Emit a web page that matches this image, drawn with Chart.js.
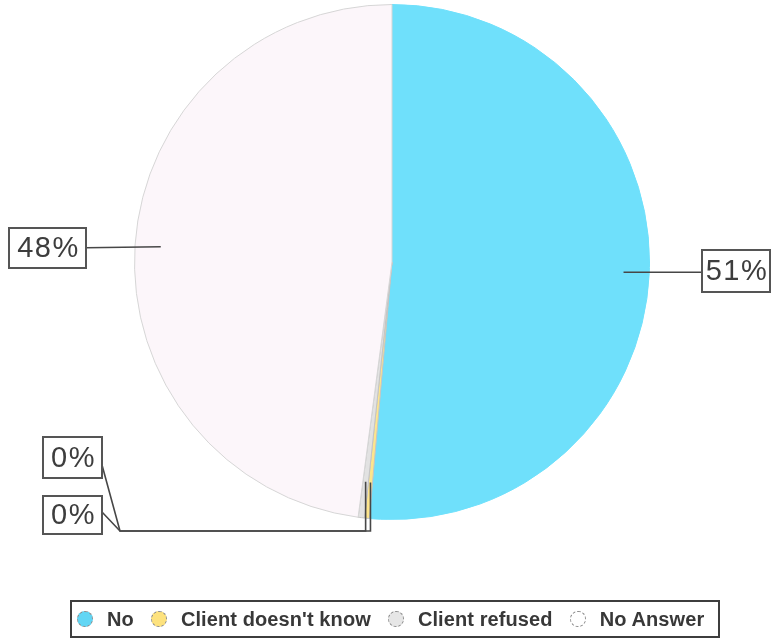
<!DOCTYPE html>
<html>
<head>
<meta charset="utf-8">
<script src="https://cdn.jsdelivr.net/npm/chart.js@4.4.1/dist/chart.umd.min.js"></script>
<style>
  html, body { margin: 0; padding: 0; background: #fff; }
  #wrap { position: relative; width: 772px; height: 641px; overflow: hidden; }
  #pie { position: absolute; left: 0; top: 0; }
  #legend {
    position: absolute; left: 70px; top: 600px; width: 641px; height: 34px;
    border: 2px solid #3e3e3e; display: flex; align-items: center;
    padding-left: 5px; box-sizing: content-box;
    font: bold 20px "Liberation Sans", Arial, sans-serif; color: #383838;
    letter-spacing: 0.1px;
  }
  #legend .item { display: flex; align-items: center; margin-right: 17px; white-space: nowrap; }
  #legend .dot {
    width: 14px; height: 14px; border-radius: 50%; margin-right: 14px;
    border: 1px dashed #8a8a8a;
  }
</style>
</head>
<body>
<div id="wrap">
  <canvas id="pie" width="772" height="641"></canvas>
  <div id="legend"></div>
</div>
<script>
const categories = ['No', "Client doesn't know", 'Client refused', 'No Answer'];
const shares = [51.4, 0.3, 0.4, 47.9];
const sliceColors = ['#6fe0fb', '#fde58c', '#e2e2e2', '#fcf6fa'];
const sliceBorders = ['#6fe0fb', '#c4c4c4', '#c4c4c4', '#d6d6d6'];
const legendDots = ['#62d6f4', '#fde27e', '#e6e6e6', '#ffffff'];

// where each callout box sits, how far in its leader starts, and the bend points
const callouts = [
  { box: [702, 250, 68, 42], depth: 0.9, path: (a) => [[702, a.y]] },
  { box: [43, 437, 59, 41], depth: 0.86, path: (a) => [[a.x, 531], [120, 531], [102, 465]] },
  { box: [43, 496, 59, 38], depth: 0.86, path: (a) => [[a.x, 531], [120, 531], [102, 512]] },
  { box: [9, 228, 77, 40], depth: 0.9, path: (a) => [[86, a.y + 1]] },
];

const calloutPlugin = {
  id: 'callouts',
  afterDatasetsDraw(chart) {
    const ctx = chart.ctx;
    const meta = chart.getDatasetMeta(0);
    const total = shares.reduce((s, v) => s + v, 0);
    ctx.save();
    meta.data.forEach((arc, i) => {
      const { x, y, startAngle, endAngle, outerRadius } = arc.getProps(
        ['x', 'y', 'startAngle', 'endAngle', 'outerRadius'], true);
      const mid = (startAngle + endAngle) / 2;
      const c = callouts[i];
      const anchor = {
        x: x + Math.cos(mid) * outerRadius * c.depth,
        y: y + Math.sin(mid) * outerRadius * c.depth,
      };
      ctx.strokeStyle = '#474747';
      ctx.lineWidth = 1.6;
      ctx.beginPath();
      ctx.moveTo(anchor.x, anchor.y);
      c.path(anchor).forEach(([px, py]) => ctx.lineTo(px, py));
      ctx.stroke();

      const [bx, by, bw, bh] = c.box;
      ctx.fillStyle = '#ffffff';
      ctx.fillRect(bx, by, bw, bh);
      ctx.strokeStyle = '#555555';
      ctx.lineWidth = 2;
      ctx.strokeRect(bx, by, bw, bh);

      const pct = Math.round((shares[i] / total) * 100) + '%';
      ctx.fillStyle = '#3d3d3d';
      ctx.font = '29px "Liberation Sans", Arial, sans-serif';
      ctx.letterSpacing = '1.5px';
      ctx.textAlign = 'center';
      ctx.textBaseline = 'middle';
      ctx.fillText(pct, bx + bw / 2 + 1, by + bh / 2 + 1);
    });
    ctx.restore();
  },
};

new Chart(document.getElementById('pie'), {
  type: 'pie',
  data: {
    labels: categories,
    datasets: [{
      data: shares,
      backgroundColor: sliceColors,
      borderColor: sliceBorders,
      borderWidth: 1,
    }],
  },
  options: {
    responsive: false,
    animation: false,
    layout: { padding: { top: 4, left: 134, right: 122, bottom: 121 } },
    plugins: {
      legend: { display: false },
      tooltip: { enabled: false },
    },
  },
  plugins: [calloutPlugin],
});

const legend = document.getElementById('legend');
categories.forEach((name, i) => {
  const item = document.createElement('div');
  item.className = 'item';
  const dot = document.createElement('span');
  dot.className = 'dot';
  dot.style.background = legendDots[i];
  const label = document.createElement('span');
  label.textContent = name;
  item.appendChild(dot);
  item.appendChild(label);
  legend.appendChild(item);
});
</script>
</body>
</html>
